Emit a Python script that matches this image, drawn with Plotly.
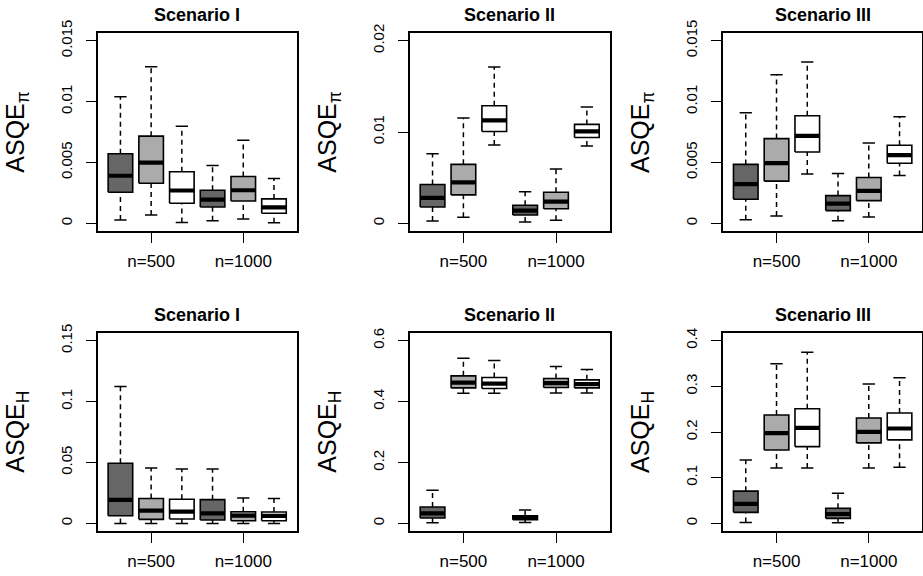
import plotly.graph_objects as go

# ---- data -------------------------------------------------------------
GROUP_LABELS = ["n=500", "n=1000"]
GROUP_TICKS = [2, 5]
BOX_POS = [1, 2, 3, 4, 5, 6]
BOX_FILLS = ["#666666", "#ABABAB", "#FFFFFF", "#666666", "#ABABAB", "#FFFFFF"]
TITLES = ["Scenario I", "Scenario II", "Scenario III"]
YLABELS = ["ASQE<sub>π</sub>", "ASQE<sub>H</sub>"]

# box statistics per box: (lower whisker, Q1, median, Q3, upper whisker)
PI_S1 = [
    (0.00028, 0.00256, 0.00391, 0.00572, 0.01040),
    (0.00069, 0.00330, 0.00498, 0.00716, 0.01285),
    (0.00008, 0.00165, 0.00270, 0.00424, 0.00798),
    (0.00022, 0.00135, 0.00195, 0.00272, 0.00476),
    (0.00036, 0.00184, 0.00272, 0.00385, 0.00683),
    (0.00006, 0.00083, 0.00132, 0.00201, 0.00369),
]
PI_S2 = [
    (0.00026, 0.00180, 0.00279, 0.00426, 0.00763),
    (0.00066, 0.00312, 0.00448, 0.00646, 0.01152),
    (0.00859, 0.01006, 0.01127, 0.01288, 0.01710),
    (0.00015, 0.00092, 0.00139, 0.00198, 0.00345),
    (0.00033, 0.00161, 0.00239, 0.00341, 0.00594),
    (0.00848, 0.00940, 0.01006, 0.01083, 0.01273),
]
PI_S3 = [
    (0.00030, 0.00198, 0.00322, 0.00484, 0.00908),
    (0.00061, 0.00347, 0.00495, 0.00696, 0.01219),
    (0.00405, 0.00586, 0.00718, 0.00883, 0.01324),
    (0.00022, 0.00105, 0.00162, 0.00228, 0.00410),
    (0.00052, 0.00187, 0.00267, 0.00377, 0.00660),
    (0.00394, 0.00493, 0.00561, 0.00641, 0.00875),
]
H_S1 = [
    (0.0000, 0.0063, 0.0193, 0.0493, 0.1123),
    (0.0000, 0.0033, 0.0105, 0.0204, 0.0454),
    (0.0000, 0.0036, 0.0096, 0.0198, 0.0446),
    (0.0000, 0.0028, 0.0083, 0.0195, 0.0446),
    (0.0000, 0.0022, 0.0063, 0.0096, 0.0209),
    (0.0000, 0.0022, 0.0061, 0.0094, 0.0204),
]
H_S2 = [
    (0.0020, 0.0176, 0.0330, 0.0540, 0.1090),
    (0.4272, 0.4448, 0.4624, 0.4844, 0.5417),
    (0.4272, 0.4426, 0.4591, 0.4790, 0.5350),
    (0.0033, 0.0121, 0.0187, 0.0253, 0.0440),
    (0.4283, 0.4459, 0.4602, 0.4756, 0.5153),
    (0.4283, 0.4448, 0.4569, 0.4712, 0.5054),
]
H_S3 = [
    (0.0022, 0.0242, 0.0426, 0.0705, 0.1387),
    (0.1211, 0.1607, 0.1974, 0.2371, 0.3494),
    (0.1211, 0.1681, 0.2092, 0.2510, 0.3743),
    (0.0015, 0.0110, 0.0206, 0.0330, 0.0661),
    (0.1211, 0.1761, 0.2004, 0.2305, 0.3053),
    (0.1226, 0.1828, 0.2077, 0.2415, 0.3185),
]

PI_TICKS_S1 = [0, 0.005, 0.01, 0.015]
PI_TICKS_S2 = [0, 0.01, 0.02]
PI_TICKS_S3 = [0, 0.005, 0.01, 0.015]
H_TICKS_S1 = [0, 0.05, 0.1, 0.15]
H_TICKS_S2 = [0, 0.2, 0.4, 0.6]
H_TICKS_S3 = [0, 0.1, 0.2, 0.3, 0.4]

PANELS = [
    (PI_S1, PI_TICKS_S1), (PI_S2, PI_TICKS_S2), (PI_S3, PI_TICKS_S3),
    (H_S1, H_TICKS_S1), (H_S2, H_TICKS_S2), (H_S3, H_TICKS_S3),
]

# ---- layout geometry (pixels in a 923 x 576 page) ---------------------
W, H = 923, 576
COL_X = [(97.7, 296.7), (409.7, 609.7), (723.0, 922.3)]
ROW_Y = [(33.3, 230.7), (333.3, 530.7)]
BOX_HALF = 0.4
CAP_HALF = 0.2
FONT = "Liberation Sans, Arial, sans-serif"

fig = go.Figure()
layout = dict(
    width=W, height=H,
    margin=dict(l=0, r=0, t=0, b=0, autoexpand=False),
    paper_bgcolor="white", plot_bgcolor="white",
    showlegend=False,
    font=dict(family=FONT, color="black"),
    annotations=[],
)


def fmt(v):
    return "0" if v == 0 else ("%g" % v)


for idx, (stats, ticks) in enumerate(PANELS):
    r, c = divmod(idx, 3)
    n = idx + 1
    xa = "x" if n == 1 else "x%d" % n
    ya = "y" if n == 1 else "y%d" % n
    x0, x1 = COL_X[c]
    y0, y1 = ROW_Y[r]
    ymax = ticks[-1]

    layout["xaxis" if n == 1 else "xaxis%d" % n] = dict(
        domain=[x0 / W, x1 / W], anchor=ya, automargin=False,
        range=[0.26, 6.74], showgrid=False, zeroline=False,
        tickmode="array", tickvals=GROUP_TICKS, ticktext=GROUP_LABELS,
        ticks="outside", ticklen=10, tickwidth=1.3, tickcolor="black",
        showline=True, mirror=True, linecolor="black", linewidth=1.6,
        tickfont=dict(size=17, family=FONT, color="black"),
        ticklabelstandoff=4,
    )
    layout["yaxis" if n == 1 else "yaxis%d" % n] = dict(
        domain=[1 - y1 / H, 1 - y0 / H], anchor=xa, automargin=False,
        range=[-0.04 * ymax, 1.04 * ymax], showgrid=False, zeroline=False,
        tickmode="array", tickvals=ticks, ticktext=[fmt(t) for t in ticks],
        tickangle=-90,
        ticks="outside", ticklen=10, tickwidth=1.3, tickcolor="black",
        showline=True, mirror=True, linecolor="black", linewidth=1.6,
        tickfont=dict(size=15, family=FONT, color="black"),
        ticklabelstandoff=8,
    )

    for pos, fill, (lo, q1, med, q3, hi) in zip(BOX_POS, BOX_FILLS, stats):
        # dashed whiskers
        for a, b in ((lo, q1), (q3, hi)):
            fig.add_trace(go.Scatter(
                x=[pos, pos], y=[a, b], mode="lines", xaxis=xa, yaxis=ya,
                line=dict(color="black", width=1.5, dash="5px,4px"),
                hoverinfo="skip"))
        # staples
        for v in (lo, hi):
            fig.add_trace(go.Scatter(
                x=[pos - CAP_HALF, pos + CAP_HALF], y=[v, v], mode="lines",
                xaxis=xa, yaxis=ya, line=dict(color="black", width=1.5),
                hoverinfo="skip"))
        # box body
        fig.add_trace(go.Scatter(
            x=[pos - BOX_HALF, pos + BOX_HALF, pos + BOX_HALF,
               pos - BOX_HALF, pos - BOX_HALF],
            y=[q1, q1, q3, q3, q1], mode="lines", fill="toself",
            fillcolor=fill, xaxis=xa, yaxis=ya,
            line=dict(color="black", width=1.6), hoverinfo="skip"))
        # median
        fig.add_trace(go.Scatter(
            x=[pos - BOX_HALF, pos + BOX_HALF], y=[med, med], mode="lines",
            xaxis=xa, yaxis=ya, line=dict(color="black", width=4.2),
            hoverinfo="skip"))

    # panel title
    layout["annotations"].append(dict(
        text="<b>%s</b>" % TITLES[c], xref="paper", yref="paper",
        x=(x0 + x1) / 2 / W, y=1 - (y0 - 18.8) / H,
        xanchor="center", yanchor="middle", showarrow=False,
        font=dict(size=18, family=FONT, color="black")))
    # y label
    layout["annotations"].append(dict(
        text=YLABELS[r], xref="paper", yref="paper",
        x=(x0 - 81) / W, y=1 - (y0 + y1) / 2 / H,
        xanchor="center", yanchor="middle", showarrow=False, textangle=-90,
        font=dict(size=25, family=FONT, color="black")))

fig.update_layout(**layout)
fig.write_html("out.html")
